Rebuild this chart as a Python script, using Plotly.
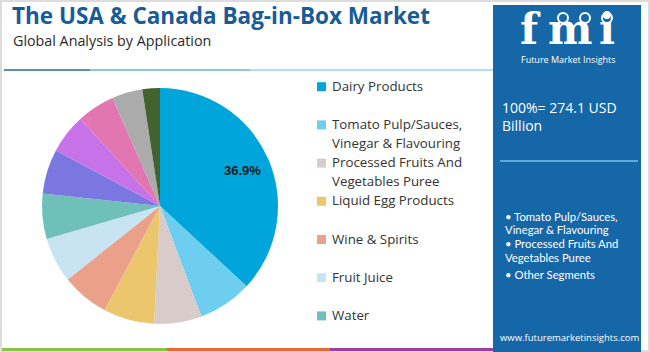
import math
import plotly.graph_objects as go

W, H = 650, 352

# ---------------- data ----------------
categories = [
    "Dairy Products",
    "Tomato Pulp/Sauces, Vinegar & Flavouring",
    "Processed Fruits And Vegetables Puree",
    "Liquid Egg Products",
    "Wine & Spirits",
    "Fruit Juice",
    "Water",
    "Other Segment 1",
    "Other Segment 2",
    "Other Segment 3",
    "Other Segment 4",
    "Other Segment 5",
]
shares = [36.9, 7.4, 6.5, 7.0, 6.5, 6.2, 6.2, 6.1, 5.4, 5.2, 4.2, 2.4]
colors = ["#00A5DC", "#6DCEF0", "#D8CCCA", "#EBC66C", "#EBA189", "#C8E4F2",
          "#70C0BA", "#7B77E1", "#C872E9", "#E276B0", "#ABABAB", "#44622D"]
legend_labels = [
    "Dairy Products",
    "Tomato Pulp/Sauces,<br>Vinegar & Flavouring",
    "Processed Fruits And<br>Vegetables Puree",
    "Liquid Egg Products",
    "Wine & Spirits",
    "Fruit Juice",
    "Water",
]
title_text = "The USA & Canada Bag-in-Box Market"
subtitle_text = "Global Analysis by Application"
total_text = "100%= 274.1 USD<br>Billion"
bullet_lines = ["• Tomato Pulp/Sauces,", "Vinegar & Flavouring",
                "• Processed Fruits And", "Vegetables Puree", "• Other Segments"]
url_text = "www.futuremarketinsights.com"


def px(x):
    return x / W


def py(y):
    return 1 - y / H


# pie geometry (pixels)
cx, cy, R = 160, 206, 118

fig = go.Figure()
fig.add_trace(go.Pie(
    labels=categories,
    values=shares,
    sort=False,
    direction="clockwise",
    rotation=0,
    marker=dict(colors=colors, line=dict(width=0)),
    textinfo="none",
    domain=dict(x=[px(cx - R), px(cx + R)], y=[py(cy + R), py(cy - R)]),
    showlegend=False,
    hoverinfo="label+percent",
))

shapes = []
annotations = []

# percent label for the largest slice, placed along its mid-angle
total = sum(shares)
theta = math.radians(360 * shares[0] / total / 2)
lx = cx + 0.76 * R * math.sin(theta)
ly = cy - 0.76 * R * math.cos(theta)
annotations.append(dict(text="<b>%.1f%%</b>" % (100 * shares[0] / total), x=px(lx), y=py(ly),
                        xref="paper", yref="paper", xanchor="center", yanchor="middle", showarrow=False,
                        font=dict(family="Liberation Sans, Arial", size=13, color="#1a1a1a")))

# outer frame
shapes.append(dict(type="rect", xref="paper", yref="paper", x0=px(1), x1=px(649), y0=py(351), y1=py(1),
                   line=dict(color="#dcdcdc", width=2), fillcolor="rgba(0,0,0,0)", layer="below"))

# top separator line (gradient-ish)
seg = [(4, 90, "#5c8fb8"), (90, 250, "#8fc4e4"), (250, 493, "#b7dff3")]
for x0, x1, c in seg:
    shapes.append(dict(type="line", xref="paper", yref="paper", x0=px(x0), x1=px(x1), y0=py(70), y1=py(70),
                       line=dict(color=c, width=2)))

# bottom colored lines
for x0, x1, c in [(2, 167, "#8BC34A"), (167, 330, "#E8683A"), (330, 493, "#9B3FA0")]:
    shapes.append(dict(type="line", xref="paper", yref="paper", x0=px(x0), x1=px(x1), y0=py(349.5), y1=py(349.5),
                       line=dict(color=c, width=3)))

# right blue panel
shapes.append(dict(type="rect", xref="paper", yref="paper", x0=px(493), x1=px(641), y0=py(352), y1=py(5),
                   fillcolor="#1667A8", line=dict(width=0), layer="below"))
# panel separator line
shapes.append(dict(type="line", xref="paper", yref="paper", x0=px(500), x1=px(638), y0=py(161), y1=py(161),
                   line=dict(color="#5EA9DE", width=2)))

# logo circles
for gx in (563, 585, 607):
    shapes.append(dict(type="circle", xref="paper", yref="paper", x0=px(gx - 5), x1=px(gx + 5),
                       y0=py(23), y1=py(13), line=dict(color="white", width=2), fillcolor="#1667A8"))

# title & subtitle
annotations.append(dict(text="<b>" + title_text + "</b>", x=px(10), y=py(15.5), xref="paper", yref="paper",
                        xanchor="left", yanchor="middle", showarrow=False,
                        font=dict(family="Open Sans", size=22.5, color="#175C96")))
annotations.append(dict(text=subtitle_text, x=px(11), y=py(41), xref="paper", yref="paper",
                        xanchor="left", yanchor="middle", showarrow=False,
                        font=dict(family="Open Sans", size=14.3, color="#2a2a2a")))

# custom legend
pitch = 38.2
for i, lab in enumerate(legend_labels):
    y0 = 85.7 + pitch * i
    shapes.append(dict(type="rect", xref="paper", yref="paper", x0=px(317), x1=px(326),
                       y0=py(y0 + 5.5), y1=py(y0 - 3.5), fillcolor=colors[i], line=dict(width=0)))
    for j, line in enumerate(lab.split("<br>")):
        annotations.append(dict(text=line, x=px(330), y=py(y0 + 19 * j), xref="paper", yref="paper",
                                xanchor="left", yanchor="middle", showarrow=False,
                                font=dict(family="Open Sans", size=13.3, color="#333333")))

# logo text (letters placed individually)
for ch, gx, sz in (("f", 530, 42), ("m", 570, 42), ("i", 607, 42)):
    annotations.append(dict(text="<b>" + ch + "</b>", x=px(gx), y=py(30), xref="paper", yref="paper",
                            xanchor="center", yanchor="middle", showarrow=False,
                            font=dict(family="DejaVu Serif", size=sz, color="white")))
annotations.append(dict(text="Future Market Insights", x=px(568), y=py(60), xref="paper", yref="paper",
                        xanchor="center", yanchor="middle", showarrow=False,
                        font=dict(family="Open Sans", size=9, color="white")))

# panel texts
annotations.append(dict(text=total_text, x=px(500), y=py(116), xref="paper", yref="paper",
                        xanchor="left", yanchor="middle", align="left", showarrow=False,
                        font=dict(family="Open Sans", size=14, color="white")))
bl_y = [216, 229.5, 243.5, 257.5, 274]
for t, yy in zip(bullet_lines, bl_y):
    annotations.append(dict(text=t, x=px(503), y=py(yy), xref="paper", yref="paper",
                            xanchor="left", yanchor="middle", showarrow=False,
                            font=dict(family="Lato", size=11.3, color="white")))
annotations.append(dict(text=url_text, x=px(570), y=py(337), xref="paper", yref="paper",
                        xanchor="center", yanchor="middle", showarrow=False,
                        font=dict(family="Open Sans", size=9.5, color="white")))

fig.update_layout(
    width=W, height=H,
    margin=dict(l=0, r=0, t=0, b=0),
    paper_bgcolor="white",
    plot_bgcolor="white",
    shapes=shapes,
    annotations=annotations,
    showlegend=False,
)

fig.write_html("out.html")
